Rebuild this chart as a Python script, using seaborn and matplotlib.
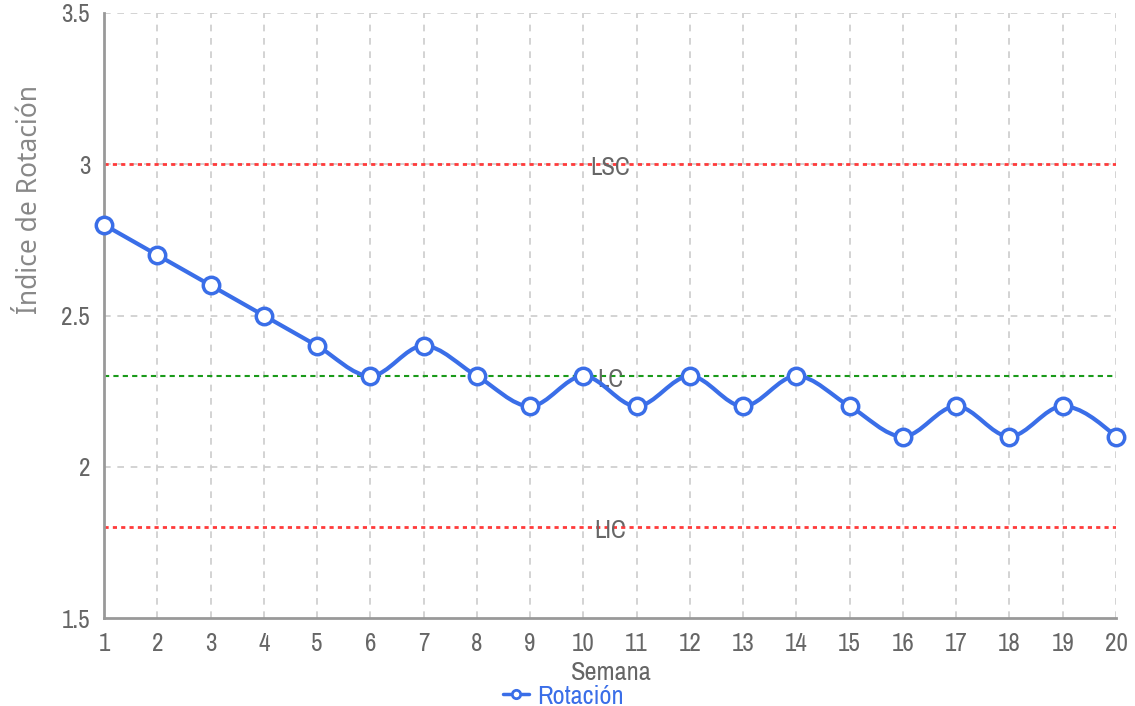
import numpy as np
import matplotlib
matplotlib.use("Agg")
import matplotlib.pyplot as plt
from matplotlib import font_manager
import seaborn as sns
import pandas as pd
from matplotlib.path import Path
from matplotlib.patches import PathPatch
from matplotlib.lines import Line2D

# Weekly rotation index with control limits
semanas = list(range(1, 21))
rotacion = [2.8, 2.7, 2.6, 2.5, 2.4, 2.3, 2.4, 2.3, 2.2, 2.3,
            2.2, 2.3, 2.2, 2.3, 2.2, 2.1, 2.2, 2.1, 2.2, 2.1]
limites = {"LSC": 3.0, "LC": 2.3, "LIC": 1.8}
y_ticks = [1.5, 2, 2.5, 3, 3.5]
y_labels = ["1.5", "2", "2.5", "3", "3.5"]

BLUE = "#3a6ee8"
GREY = "#666666"
AXIS = "#999999"

sns.set_style("white")

# prefer a narrow sans face when one is available
names = {f.name for f in font_manager.fontManager.ttflist}
narrow = [n for n in names if "Narrow" in n or "Condensed" in n]
family = (sorted(narrow) if narrow else []) + ["DejaVu Sans"]
plt.rcParams["font.family"] = family
plt.rcParams["font.stretch"] = "condensed"

df = pd.DataFrame({"Semana": semanas, "Rotación": rotacion})

fig = plt.figure(figsize=(11.35, 7.06), dpi=100)
ax = fig.add_axes([104 / 1135, 1 - 618 / 706, (1116 - 104) / 1135, (618 - 13) / 706])


def monotone_path(xs, ys):
    """Cubic Bezier path with monotone-x tangents."""
    xs = np.asarray(xs, float)
    ys = np.asarray(ys, float)
    n = len(xs)
    h = np.diff(xs)
    s = np.diff(ys) / h
    t = np.zeros(n)
    for i in range(1, n - 1):
        h0, h1 = h[i - 1], h[i]
        s0, s1 = s[i - 1], s[i]
        p = (s0 * h1 + s1 * h0) / (h0 + h1)
        t[i] = (np.sign(s0) + np.sign(s1)) * min(abs(s0), abs(s1), 0.5 * abs(p))
    t[0] = (3 * s[0] - t[1]) / 2 if n > 2 else s[0]
    t[-1] = (3 * s[-1] - t[-2]) / 2 if n > 2 else s[-1]
    verts = [(xs[0], ys[0])]
    codes = [Path.MOVETO]
    for i in range(n - 1):
        dx = h[i] / 3
        verts += [(xs[i] + dx, ys[i] + dx * t[i]),
                  (xs[i + 1] - dx, ys[i + 1] - dx * t[i + 1]),
                  (xs[i + 1], ys[i + 1])]
        codes += [Path.CURVE4] * 3
    return Path(verts, codes)


# grid
for x in semanas:
    ax.axvline(x, color="#cccccc", lw=1.2, ls=(0, (4, 4)), zorder=0)
for y in y_ticks[1:]:
    ax.axhline(y, color="#cccccc", lw=1.2, ls=(0, (4, 4)), zorder=0)

# control limits
ax.axhline(limites["LSC"], color="#ff3b3b", lw=2, ls=(0, (1.5, 1.5)), zorder=1)
ax.axhline(limites["LIC"], color="#ff3b3b", lw=2, ls=(0, (1.5, 1.5)), zorder=1)
ax.axhline(limites["LC"], color="#1a9a1a", lw=1.5, ls=(0, (2.5, 2)), zorder=1)
for name, val in limites.items():
    ax.text(10.5, val - 0.01, name, ha="center", va="center", fontsize=18,
            color=GREY, zorder=2)

# series
ax.add_patch(PathPatch(monotone_path(semanas, rotacion), fill=False,
                       edgecolor=BLUE, lw=3, zorder=3, capstyle="round"))
sns.scatterplot(data=df, x="Semana", y="Rotación", ax=ax, s=140,
                facecolor="white", edgecolor=BLUE, linewidth=2.5,
                zorder=4, legend=False, clip_on=False)

ax.set_xlim(1, 20)
ax.set_ylim(1.5, 3.5)
ax.set_xticks(semanas)
ax.set_xticklabels([str(s) for s in semanas])
ax.set_yticks(y_ticks)
ax.set_yticklabels(y_labels)
ax.tick_params(axis="both", colors=AXIS, labelcolor=GREY, labelsize=18,
               length=7, width=1.5, direction="out", pad=3)
ax.set_xlabel("")
ax.set_ylabel("")

for side in ["top", "right"]:
    ax.spines[side].set_visible(False)
for side in ["left", "bottom"]:
    ax.spines[side].set_color(AXIS)
    ax.spines[side].set_linewidth(2)

fig.text(611 / 1135, 1 - 672 / 706, "Semana", ha="center", va="center",
         fontsize=19, color=GREY)
fig.text(30 / 1135, 1 - 200 / 706, "Índice de Rotación", ha="center",
         va="center", rotation=90, fontsize=19, color="#888888",
         family=["Noto Sans", "DejaVu Sans"], stretch="normal")

# legend
handle = Line2D([], [], color=BLUE, lw=2.5, marker="o", markersize=6,
                markerfacecolor="white", markeredgecolor=BLUE,
                markeredgewidth=2)
leg = fig.legend([handle], ["Rotación"], loc="center",
                 bbox_to_anchor=(563 / 1135, 1 - 696 / 706), frameon=False,
                 fontsize=19, handlelength=1.0, handletextpad=0.3,
                 borderpad=0)
for txt in leg.get_texts():
    txt.set_color(BLUE)

fig.savefig("out.png", dpi=100)
